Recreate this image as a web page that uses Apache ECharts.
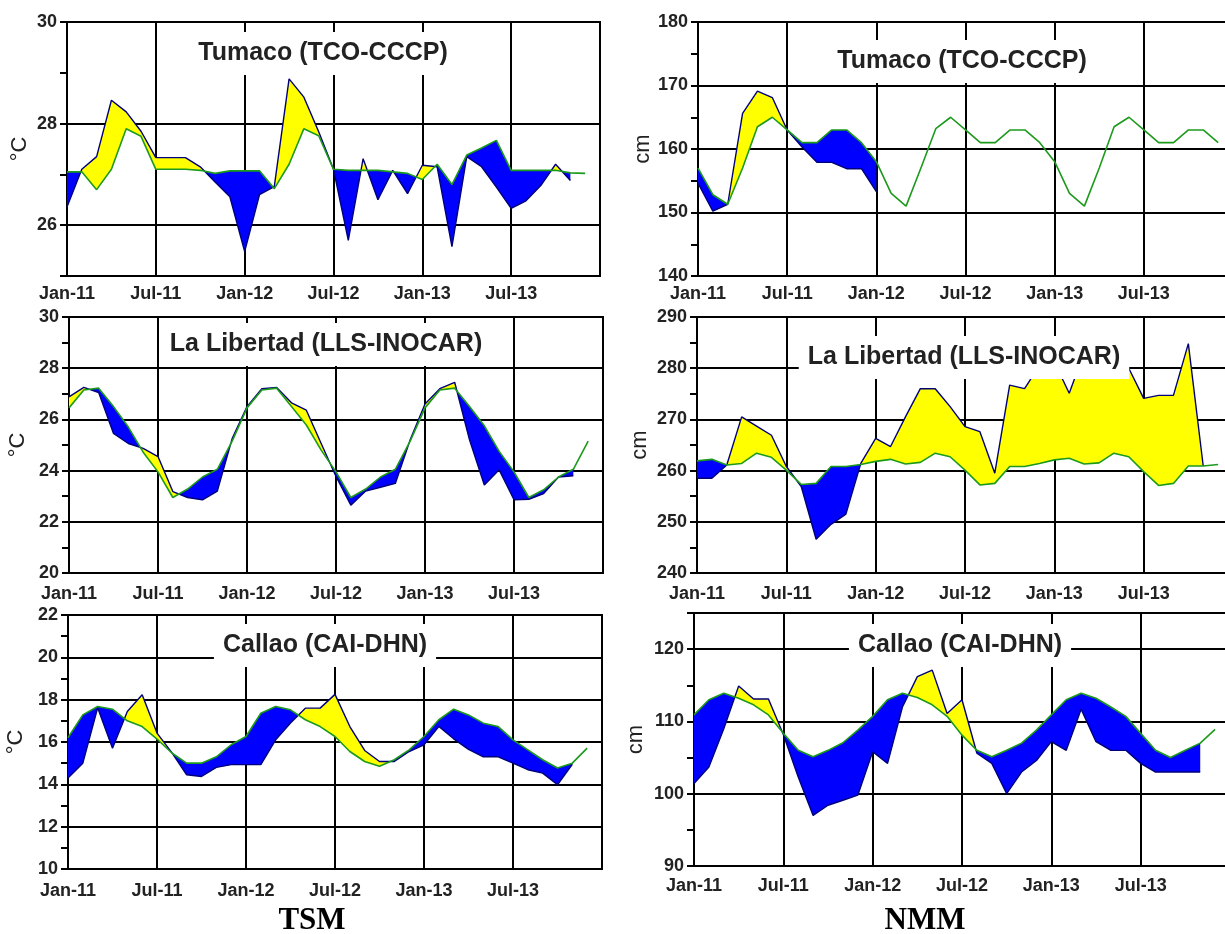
<!DOCTYPE html>
<html>
<head>
<meta charset="utf-8">
<script src="https://cdn.jsdelivr.net/npm/echarts@6/dist/echarts.min.js"></script>
<style>
html,body{margin:0;padding:0;background:#fff;}
#chart{width:1225px;height:934px;}
</style>
</head>
<body>
<div id="chart"></div>
<script>
// ---------------- DATA (month index 0 = Jan-11) ----------------
const xTickLabels = ['Jan-11', 'Jul-11', 'Jan-12', 'Jul-12', 'Jan-13', 'Jul-13'];

// Tumaco (TCO-CCCP) - TSM (°C)
const tumacoTsmClim = [27.05, 27.05, 26.7, 27.1, 27.9, 27.75, 27.1, 27.1, 27.1, 27.08, 27.02, 27.07,
  27.07, 27.07, 26.72, 27.2, 27.9, 27.76, 27.1, 27.08, 27.08, 27.08, 27.05, 27.02,
  26.9, 27.2, 26.8, 27.38, 27.52, 27.67, 27.08, 27.08, 27.08, 27.08, 27.03, 27.02];
const tumacoTsmObs = [26.36, 27.1, 27.35, 28.46, 28.23, 27.85, 27.33, 27.33, 27.33, 27.15, 26.85, 26.56,
  25.48, 26.6, 26.76, 28.88, 28.52, 27.84, 27.1, 25.7, 27.31, 26.5, 27.08, 26.62,
  27.18, 27.15, 25.58, 27.35, 27.15, 26.75, 26.33, 26.48, 26.78, 27.2, 26.88];

// Tumaco (TCO-CCCP) - NMM (cm)
const tumacoNmmClim = [157, 152.8, 151.3, 157, 163.5, 165, 163, 161, 161, 163, 163, 161,
  158, 153, 151, 157, 163.2, 165, 163, 161, 161, 163, 163, 161,
  158, 153, 151, 157, 163.5, 165, 163, 161, 161, 163, 163, 161];
const tumacoNmmObs = [154.6, 150.2, 151.3, 165.6, 169.1, 168.1, 163, 160.3, 157.9, 157.9, 156.9, 156.9, 153.3];

// La Libertad (LLS-INOCAR) - TSM (°C)
const libertadTsmClim = [26.45, 27.15, 27.22, 26.5, 25.7, 24.72, 23.95, 22.95, 23.28, 23.75, 24.05, 25.15,
  26.45, 27.15, 27.22, 26.5, 25.78, 24.8, 23.95, 22.95, 23.28, 23.75, 24.05, 25.15,
  26.45, 27.15, 27.22, 26.5, 25.75, 24.75, 23.95, 22.95, 23.25, 23.75, 24.05, 25.15];
const libertadTsmObs = [26.88, 27.25, 27.05, 25.45, 25.06, 24.87, 24.55, 23.18, 22.95, 22.86, 23.2, 25.25,
  26.5, 27.2, 27.25, 26.65, 26.36, 25.06, 23.77, 22.65, 23.2, 23.35, 23.5, 25.2,
  26.6, 27.2, 27.45, 25.2, 23.44, 24.03, 22.86, 22.88, 23.1, 23.75, 23.8];

// La Libertad (LLS-INOCAR) - NMM (cm)
const libertadNmmClim = [261.9, 262.2, 261.1, 261.4, 263.4, 262.6, 260.1, 257.3, 257.5, 260.8, 260.8, 261.2,
  261.8, 262.2, 261.3, 261.6, 263.4, 262.7, 260.1, 257.2, 257.5, 260.8, 260.8, 261.4,
  262.1, 262.4, 261.3, 261.5, 263.4, 262.7, 259.8, 257.1, 257.5, 260.9, 260.9, 261.2];
const libertadNmmObs = [258.5, 258.5, 261.1, 270.5, 268.7, 266.9, 260.8, 256.9, 246.6, 249.5, 251.5, 261.4,
  266.3, 264.7, 270.5, 276, 276, 272.5, 268.6, 267.6, 259.5, 276.7, 276, 280.5,
  281.2, 275.1, 283, 282, 282, 280, 274.1, 274.7, 274.7, 284.8, 260.9];

// Callao (CAI-DHN) - TSM (°C)
const callaoTsmClim = [16.2, 17.28, 17.68, 17.55, 17.0, 16.73, 16.14, 15.48, 15.0, 15.0, 15.3, 15.87,
  16.26, 17.36, 17.68, 17.52, 17.05, 16.73, 16.26, 15.55, 15.08, 14.85, 15.16, 15.63,
  16.26, 17.05, 17.55, 17.28, 16.89, 16.73, 16.1, 15.63, 15.16, 14.77, 15.0, 15.71];
const callaoTsmObs = [14.3, 15.0, 17.62, 15.7, 17.44, 18.23, 16.42, 15.5, 14.45, 14.37, 14.8, 14.93,
  14.93, 14.93, 16.1, 16.9, 17.6, 17.6, 18.25, 16.73, 15.6, 15.08, 15.08, 15.55,
  15.87, 16.73, 16.15, 15.65, 15.3, 15.3, 15.0, 14.69, 14.53, 13.98, 14.95];

// Callao (CAI-DHN) - NMM (cm)
const callaoNmmClim = [110.9, 113.0, 113.9, 113.2, 112.3, 110.9, 108.35, 106.0, 105.1, 106.0, 107.05, 108.8,
  110.7, 113.0, 113.9, 113.3, 112.3, 110.7, 108.1, 106.0, 105.1, 106.0, 107.0, 108.8,
  110.9, 113.0, 113.9, 113.2, 112.0, 110.7, 108.35, 106.0, 105.0, 106.0, 107.0, 108.9];
const callaoNmmObs = [101.4, 103.7, 109.0, 114.9, 113.1, 113.1, 108.2, 102.3, 97.0, 98.4, 99.1, 99.8,
  105.8, 104.2, 112.0, 116.2, 117.1, 111.1, 113.0, 105.6, 104.2, 100.0, 103.0, 104.6,
  107.2, 106.0, 111.7, 107.2, 106.0, 106.0, 104.2, 103.0, 103.0, 103.0, 103.0];

// ---------------- LAYOUT / STYLE ----------------
const FONT = 'Liberation Sans, Arial, sans-serif';
const YELLOW = '#ffff00';
const BLUE = '#0000ff';
const GREEN = '#1c9a1c';
const NAVY = '#00007a';

const panels = [
  { title: 'Tumaco (TCO-CCCP)', clim: tumacoTsmClim, obs: tumacoTsmObs, min: 25, max: 30, tick: 1, label: 2, name: '°C',
    grid: { left: 67, top: 22, width: 533, height: 254 }, nameGap: 36, xMargin: 9, tx: 314, ty: 32 },
  { title: 'Tumaco (TCO-CCCP)', clim: tumacoNmmClim, obs: tumacoNmmObs, min: 140, max: 180, tick: 5, label: 10, name: 'cm',
    grid: { left: 698, top: 22, width: 535, height: 254 }, nameGap: 44, xMargin: 9, tx: 953, ty: 40 },
  { title: 'La Libertad (LLS-INOCAR)', clim: libertadTsmClim, obs: libertadTsmObs, min: 20, max: 30, tick: 1, label: 2, name: '°C',
    grid: { left: 69, top: 317, width: 534, height: 256 }, nameGap: 40, xMargin: 12, tx: 317, ty: 323 },
  { title: 'La Libertad (LLS-INOCAR)', clim: libertadNmmClim, obs: libertadNmmObs, min: 240, max: 290, tick: 5, label: 10, name: 'cm',
    grid: { left: 697, top: 317, width: 536, height: 256 }, nameGap: 46, xMargin: 12, tx: 955, ty: 336 },
  { title: 'Callao (CAI-DHN)', clim: callaoTsmClim, obs: callaoTsmObs, min: 10, max: 22, tick: 1, label: 2, name: '°C',
    grid: { left: 68, top: 615, width: 534, height: 254 }, nameGap: 41, xMargin: 13, tx: 316, ty: 624 },
  { title: 'Callao (CAI-DHN)', clim: callaoNmmClim, obs: callaoNmmObs, min: 90, max: 125, tick: 5, label: 10, name: 'cm',
    grid: { left: 694, top: 613, width: 536, height: 253 }, nameGap: 47, xMargin: 11, tx: 951, ty: 624 }
];

// Builds the yellow / blue regions between the observed and climatology lines
function fillRuns(obs, clim) {
  const n = Math.min(obs.length, clim.length);
  const runs = [];
  let cur = null;
  function push(x0, o0, c0, x1, o1, c1) {
    const s = ((o0 - c0) + (o1 - c1)) >= 0 ? 1 : -1;
    if (cur && cur.sign === s) {
      cur.top.push([x1, o1]);
      cur.bot.push([x1, c1]);
    } else {
      cur = { sign: s, top: [[x0, o0], [x1, o1]], bot: [[x0, c0], [x1, c1]] };
      runs.push(cur);
    }
  }
  for (let i = 0; i < n - 1; i++) {
    const d0 = obs[i] - clim[i], d1 = obs[i + 1] - clim[i + 1];
    if (d0 * d1 < 0) {
      const t = d0 / (d0 - d1);
      const xc = i + t, yc = obs[i] + t * (obs[i + 1] - obs[i]);
      push(i, obs[i], clim[i], xc, yc, yc);
      push(xc, yc, yc, i + 1, obs[i + 1], clim[i + 1]);
    } else {
      push(i, obs[i], clim[i], i + 1, obs[i + 1], clim[i + 1]);
    }
  }
  return runs.map(r => ({ sign: r.sign, pts: r.top.concat(r.bot.slice().reverse()) }));
}

const grids = [], xAxes = [], yAxes = [], series = [], titles = [];
const labelStyle = { fontFamily: FONT, fontSize: 18, fontWeight: 'bold', color: '#222' };

panels.forEach((p, i) => {
  grids.push(Object.assign({ show: true, borderColor: '#000', borderWidth: 2, backgroundColor: '#fff',
    containLabel: false, outerBoundsMode: 'none' }, p.grid));
  xAxes.push({
    type: 'value', gridIndex: i, min: 0, max: 36, interval: 6,
    axisLine: { show: true, onZero: false, lineStyle: { color: '#000', width: 2 } },
    axisTick: { show: false },
    axisLabel: Object.assign({ margin: p.xMargin, formatter: v => xTickLabels[Math.round(v / 6)] || '' }, labelStyle),
    splitLine: { show: true, lineStyle: { color: '#000', width: 2 } }
  });
  const firstIsLabel = (p.min % p.label) === 0;
  yAxes.push({
    type: 'value', gridIndex: i, min: p.min, max: p.max, interval: p.tick,
    name: p.name, nameLocation: 'middle', nameGap: p.nameGap, nameRotate: 90,
    nameTextStyle: { fontFamily: FONT, fontSize: 22, color: '#222' },
    axisLine: { show: true, onZero: false, lineStyle: { color: '#000', width: 2 } },
    axisTick: { show: true, length: 7, lineStyle: { color: '#000', width: 2 } },
    axisLabel: Object.assign({ margin: 10, formatter: v => (Math.round(v) % p.label === 0 ? String(Math.round(v)) : '') }, labelStyle),
    splitLine: { show: true, lineStyle: { width: 2,
      color: firstIsLabel ? ['#000', 'rgba(0,0,0,0)'] : ['rgba(0,0,0,0)', '#000'] } }
  });
  const obs = p.obs, clim = p.clim;
  series.push({
    type: 'custom', xAxisIndex: i, yAxisIndex: i, silent: true, z: 2, clip: true,
    data: [[0, clim[0]]], encode: { x: 0, y: 1 },
    renderItem: function (params, api) {
      const runs = fillRuns(obs, clim);
      return {
        type: 'group',
        children: runs.map(r => ({
          type: 'polygon',
          shape: { points: r.pts.map(pt => api.coord(pt)) },
          style: { fill: r.sign > 0 ? YELLOW : BLUE }
        }))
      };
    }
  });
  series.push({
    type: 'line', xAxisIndex: i, yAxisIndex: i, z: 3, silent: true, symbol: 'none',
    data: obs.map((v, k) => [k, v]),
    lineStyle: { color: NAVY, width: 1.4 }
  });
  series.push({
    type: 'line', xAxisIndex: i, yAxisIndex: i, z: 4, silent: true, symbol: 'none',
    data: clim.map((v, k) => [k, v]),
    lineStyle: { color: GREEN, width: 1.6 }
  });
  titles.push({
    text: p.title, left: p.tx, top: p.ty, textAlign: 'center',
    backgroundColor: '#fff', padding: [9, 9],
    textStyle: { fontFamily: FONT, fontSize: 25, fontWeight: 'bold', color: '#222' }
  });
});

titles.push({ text: 'TSM', left: 312, top: 905, textAlign: 'center', padding: 0,
  textStyle: { fontFamily: 'Liberation Serif, Times New Roman, serif', fontSize: 31, fontWeight: 'bold', color: '#000' } });
titles.push({ text: 'NMM', left: 925, top: 905, textAlign: 'center', padding: 0,
  textStyle: { fontFamily: 'Liberation Serif, Times New Roman, serif', fontSize: 31, fontWeight: 'bold', color: '#000' } });

const chart = echarts.init(document.getElementById('chart'), null, { renderer: 'canvas' });
chart.setOption({
  backgroundColor: '#fff',
  animation: false,
  title: titles,
  grid: grids,
  xAxis: xAxes,
  yAxis: yAxes,
  series: series
});
</script>
</body>
</html>
